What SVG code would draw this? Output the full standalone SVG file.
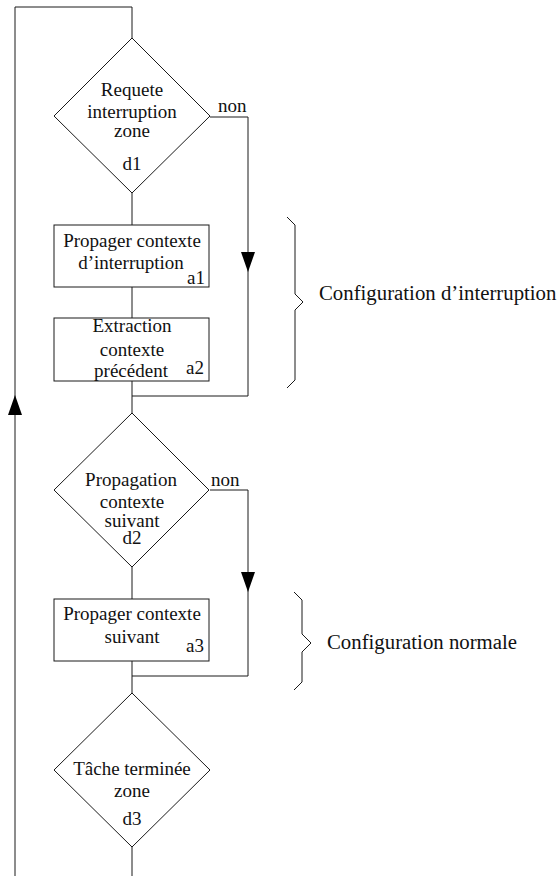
<svg xmlns="http://www.w3.org/2000/svg" width="560" height="876" viewBox="0 0 560 876">
<style>
.s{fill:none;stroke:#1a1a1a;stroke-width:1}
.n{fill:#fff;stroke:#1a1a1a;stroke-width:1}
text{font-family:"Liberation Serif","Times New Roman",serif;fill:#111}
.t{font-size:19px;text-anchor:middle}
.r{font-size:19px;text-anchor:end}
.l{font-size:19px}
.b{font-size:20.8px}
</style>
<defs>
<marker id="ah" markerUnits="userSpaceOnUse" markerWidth="20" markerHeight="14" refX="20" refY="7" orient="auto">
<path d="M0,0 L20,7 L0,14 z" fill="#000"/>
</marker>
</defs>
<rect width="560" height="876" fill="#fff"/>
<g id="connectors">
<polyline class="s" points="15,395 15,7 132,7 132,38"/>
<line class="s" x1="15" y1="876" x2="15" y2="395" marker-end="url(#ah)"/>
<line class="s" x1="132" y1="193" x2="132" y2="225"/>
<line class="s" x1="132" y1="287" x2="132" y2="318"/>
<line class="s" x1="132" y1="381" x2="132" y2="413"/>
<polyline class="s" points="210,117 248,117 248,272" marker-end="url(#ah)"/>
<polyline class="s" points="248,272 248,396 132,396"/>
<line class="s" x1="132" y1="567" x2="132" y2="599"/>
<line class="s" x1="132" y1="661" x2="132" y2="693"/>
<polyline class="s" points="210,490 248,490 248,592" marker-end="url(#ah)"/>
<polyline class="s" points="248,592 248,676 132,676"/>
<line class="s" x1="132" y1="847" x2="132" y2="876"/>
<text class="l" x="218" y="111.5">non</text>
<text class="l" x="211" y="486">non</text>
</g>
<g id="d1">
<polygon class="n" points="132,38 210,116 132,193 54,116"/>
<text class="t" x="132" y="96">Requete</text>
<text class="t" x="132" y="118">interruption</text>
<text class="t" x="132" y="137">zone</text>
<text class="t" x="132" y="170">d1</text>
</g>
<g id="a1">
<rect class="n" x="54" y="225" width="155" height="62"/>
<text class="t" x="132" y="246.5">Propager contexte</text>
<text class="t" x="131" y="268.5">d’interruption</text>
<text class="r" x="205" y="283.5">a1</text>
</g>
<g id="a2">
<rect class="n" x="54" y="318" width="155" height="63"/>
<text class="t" x="132" y="331.5">Extraction</text>
<text class="t" x="132" y="356">contexte</text>
<text class="t" x="131" y="376.5">précédent</text>
<text class="r" x="204" y="373.5">a2</text>
</g>
<g id="d2">
<polygon class="n" points="132,413 209,490 132,567 54,490"/>
<text class="t" x="131" y="486">Propagation</text>
<text class="t" x="132" y="508">contexte</text>
<text class="t" x="132" y="527">suivant</text>
<text class="t" x="132" y="544">d2</text>
</g>
<g id="a3">
<rect class="n" x="54" y="599" width="155" height="62"/>
<text class="t" x="132" y="620">Propager contexte</text>
<text class="t" x="132" y="643">suivant</text>
<text class="r" x="204" y="651.5">a3</text>
</g>
<g id="d3">
<polygon class="n" points="132,693 210,770 132,847 54,770"/>
<text class="t" x="132" y="774.5">Tâche terminée</text>
<text class="t" x="132" y="797">zone</text>
<text class="t" x="132" y="824.5">d3</text>
</g>
<g id="brace-interruption">
<path class="s" d="M287,217 L295,225 L295,294 L303,302 L295,310 L295,380 L287,388"/>
<text class="b" x="319" y="300">Configuration d’interruption</text>
</g>
<g id="brace-normale">
<path class="s" d="M294,592 L302,600 L302,634 L311,643 L302,652 L302,682 L294,690"/>
<text class="b" x="327" y="648.5">Configuration normale</text>
</g>
</svg>
